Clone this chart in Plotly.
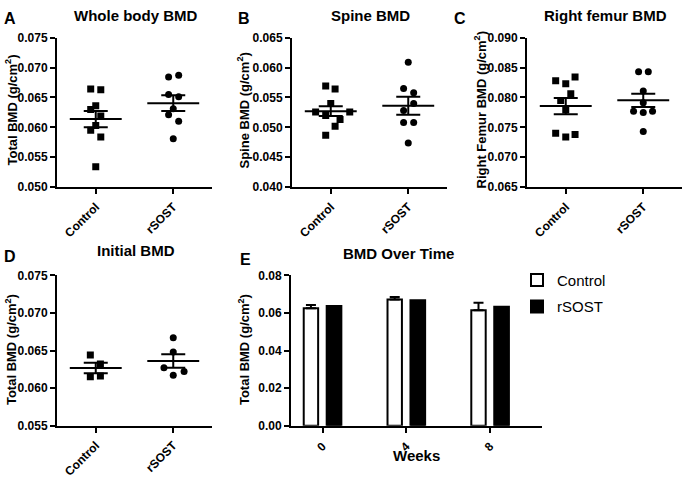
import plotly.graph_objects as go

W, H = 685, 479
FONT = "Arial, 'Liberation Sans', sans-serif"

groups = ["Control", "rSOST"]

# ---- Panel A: Whole body BMD ----
a_ctrl = [0.0664, 0.0663, 0.0636, 0.0630, 0.0619, 0.0603, 0.0595, 0.0584, 0.0534]
a_ctrl_dx = [-0.065, 0.065, 0.0, -0.065, 0.065, 0.0, -0.065, 0.065, 0.0]
a_rsost = [0.0684, 0.0687, 0.0655, 0.0651, 0.0631, 0.0621, 0.0610, 0.0581]
a_rsost_dx = [-0.06, 0.07, -0.06, 0.07, 0.0, -0.06, 0.07, 0.0]
a_mean = [0.06138, 0.06405]
a_sem = [0.00136, 0.00131]

# ---- Panel B: Spine BMD ----
b_ctrl = [0.0569, 0.0564, 0.0540, 0.05255, 0.05255, 0.0520, 0.0513, 0.0502, 0.0487]
b_ctrl_dx = [-0.065, 0.056, 0.0, -0.195, 0.245, -0.065, 0.12, 0.056, -0.065]
b_rsost = [0.0609, 0.0565, 0.0558, 0.0540, 0.0528, 0.0508, 0.0508, 0.0474]
b_rsost_dx = [0.0, -0.06, 0.07, 0.07, -0.06, -0.06, 0.07, 0.0]
b_mean = [0.05271, 0.05362]
b_sem = [0.00083, 0.00150]

# ---- Panel C: Right femur BMD ----
c_ctrl = [0.0828, 0.0823, 0.0834, 0.0806, 0.0795, 0.0779, 0.0740, 0.0738, 0.0734]
c_ctrl_dx = [-0.13, 0.0, 0.12, 0.065, -0.065, 0.0, -0.13, 0.12, 0.0]
c_rsost = [0.0843, 0.0843, 0.0811, 0.0791, 0.0777, 0.0775, 0.0777, 0.0743]
c_rsost_dx = [-0.06, 0.065, 0.0, 0.0, -0.125, 0.0, 0.12, 0.0]
c_mean = [0.07856, 0.07952]
c_sem = [0.00136, 0.00112]

# ---- Panel D: Initial BMD ----
d_ctrl = [0.0644, 0.0632, 0.0615, 0.0616]
d_ctrl_dx = [-0.07, 0.06, -0.07, 0.06]
d_rsost = [0.0667, 0.0648, 0.0627, 0.0622, 0.0617]
d_rsost_dx = [0.0, 0.0, -0.12, 0.14, 0.0]
d_mean = [0.06267, 0.0636]
d_sem = [0.0007, 0.00089]

# ---- Panel E: BMD over time ----
weeks = ["0", "4", "8"]
e_ctrl = [0.06254, 0.06712, 0.06136]
e_ctrl_err = [0.0017, 0.00135, 0.0041]
e_rsost = [0.06373, 0.06678, 0.06322]


def px(x):
    return x / W


def py(y):
    return 1 - y / H


fig = go.Figure()

scatter_panels = [
    ("x", "y", a_ctrl, a_ctrl_dx, a_rsost, a_rsost_dx, a_mean, a_sem),
    ("x2", "y2", b_ctrl, b_ctrl_dx, b_rsost, b_rsost_dx, b_mean, b_sem),
    ("x3", "y3", c_ctrl, c_ctrl_dx, c_rsost, c_rsost_dx, c_mean, c_sem),
    ("x4", "y4", d_ctrl, d_ctrl_dx, d_rsost, d_rsost_dx, d_mean, d_sem),
]

MEAN_HALF = 0.335
for xa, ya, ctrl, cdx, rs, rdx, mean, sem in scatter_panels:
    fig.add_trace(go.Scatter(
        x=[0 + d for d in cdx], y=ctrl, mode="markers", xaxis=xa, yaxis=ya,
        marker=dict(symbol="square", size=7, color="black"), showlegend=False))
    fig.add_trace(go.Scatter(
        x=[1 + d for d in rdx], y=rs, mode="markers", xaxis=xa, yaxis=ya,
        marker=dict(symbol="circle", size=7, color="black"), showlegend=False))
    for i, m in enumerate(mean):
        fig.add_trace(go.Scatter(
            x=[i - MEAN_HALF, i + MEAN_HALF], y=[m, m], mode="lines",
            xaxis=xa, yaxis=ya, line=dict(color="black", width=2),
            showlegend=False, hoverinfo="skip"))
    fig.add_trace(go.Scatter(
        x=[0, 1], y=mean, mode="markers", xaxis=xa, yaxis=ya,
        marker=dict(size=1, color="rgba(0,0,0,0)"),
        error_y=dict(type="data", array=sem, visible=True, width=12,
                     thickness=2, color="black"),
        showlegend=False))

# Panel E bars
fig.add_trace(go.Bar(
    x=[0, 1, 2], y=e_ctrl, name="Control", xaxis="x5", yaxis="y5",
    width=0.172, offset=-0.224,
    marker=dict(color="white", line=dict(color="black", width=2)),
    error_y=dict(type="data", array=e_ctrl_err, arrayminus=[0, 0, 0],
                 symmetric=False, width=5, thickness=2, color="black"),
    legendgroup="c"))
fig.add_trace(go.Bar(
    x=[0, 1, 2], y=e_rsost, name="rSOST", xaxis="x5", yaxis="y5",
    width=0.175, offset=0.05,
    marker=dict(color="black", line=dict(color="black", width=2)),
    legendgroup="r"))

tickfont = dict(family=FONT, size=12, color="black", weight="bold")
common = dict(showline=True, linewidth=2, linecolor="black", ticks="outside",
              ticklen=5, tickwidth=2, tickcolor="black", showgrid=False,
              zeroline=False, tickfont=tickfont, fixedrange=True)

doms = {
    "1": ([57, 212], [32, 188]),
    "2": ([292, 447], [32, 188]),
    "3": ([527, 682], [32, 188]),
    "4": ([57, 212], [280, 437]),
    "5": ([291, 542], [280, 437]),
}
yranges = {
    "1": ([0.050, 0.075], [0.050, 0.055, 0.060, 0.065, 0.070, 0.075], ".3f"),
    "2": ([0.040, 0.065], [0.040, 0.045, 0.050, 0.055, 0.060, 0.065], ".3f"),
    "3": ([0.065, 0.090], [0.065, 0.070, 0.075, 0.080, 0.085, 0.090], ".3f"),
    "4": ([0.055, 0.075], [0.055, 0.060, 0.065, 0.070, 0.075], ".3f"),
    "5": ([0.0, 0.08], [0.0, 0.02, 0.04, 0.06, 0.08], ".2f"),
}

layout = {}
for k, (xd, yd) in doms.items():
    xn = "xaxis" if k == "1" else "xaxis" + k
    yn = "yaxis" if k == "1" else "yaxis" + k
    xref = "x" if k == "1" else "x" + k
    yref = "y" if k == "1" else "y" + k
    if k == "5":
        xspec = dict(range=[-0.376, 2.62], tickvals=[0, 1, 2], ticktext=weeks,
                     ticklabelstandoff=2)
    else:
        xspec = dict(range=[-0.5, 1.5], tickvals=[0, 1], ticktext=groups,
                     ticklabelstandoff=1)
    layout[xn] = dict(common, domain=[px(xd[0]), px(xd[1])], anchor=yref,
                      tickangle=-45, **xspec)
    yr, tv, fmt = yranges[k]
    layout[yn] = dict(common, domain=[py(yd[1]), py(yd[0])], anchor=xref,
                      range=yr, tickvals=tv, tickformat=fmt)

annots = []


def ann(text, x, y, size, bold=True, angle=0, xanchor="center", yanchor="middle"):
    annots.append(dict(text=text, x=px(x), y=py(y), xref="paper", yref="paper",
                       showarrow=False, textangle=angle, xanchor=xanchor,
                       yanchor=yanchor,
                       font=dict(family=FONT, size=size, color="black",
                                 weight="bold" if bold else "normal")))


# panel letters
ann("A", 10, 12, 16)
ann("B", 244, 12, 16)
ann("C", 460, 12, 16)
ann("D", 10, 260, 16)
ann("E", 245, 264, 16)
# titles
ann("Whole body BMD", 135, 9, 15)
ann("Spine BMD", 370, 9, 15)
ann("Right femur BMD", 605, 9, 15)
ann("Initial BMD", 136, 254, 15)
ann("BMD Over Time", 398, 257, 15)
# y-axis titles
ann("Total BMD (g/cm<sup>2</sup>)", 12, 108, 13, angle=-90)
ann("Spine BMD (g/cm<sup>2</sup>)", 244, 108, 13, angle=-90)
ann("Right Femur BMD (g/cm<sup>2</sup>)", 481, 108, 13, angle=-90)
ann("Total BMD (g/cm<sup>2</sup>)", 11, 358, 13, angle=-90)
ann("Total BMD (g/cm<sup>2</sup>)", 244, 358, 13, angle=-90)
# x title for E
ann("Weeks", 416, 479, 15, yanchor="bottom")

fig.update_layout(
    **layout,
    annotations=annots,
    width=W, height=H,
    margin=dict(l=0, r=0, t=0, b=0),
    paper_bgcolor="white", plot_bgcolor="white",
    barmode="overlay",
    font=dict(family=FONT, color="black"),
    showlegend=True,
    legend=dict(x=px(517), y=py(268), xanchor="left", yanchor="top",
                font=dict(family=FONT, size=15, color="black"),
                bgcolor="rgba(0,0,0,0)", tracegroupgap=4,
                traceorder="grouped"),
)

post = (
    "document.documentElement.style.margin='0';"
    "document.body.style.margin='0';document.body.style.padding='0';"
    "document.documentElement.style.overflow='hidden';"
    "document.body.style.overflow='hidden';"
)

fig.write_html("out.html", config={"displayModeBar": False}, post_script=post)
